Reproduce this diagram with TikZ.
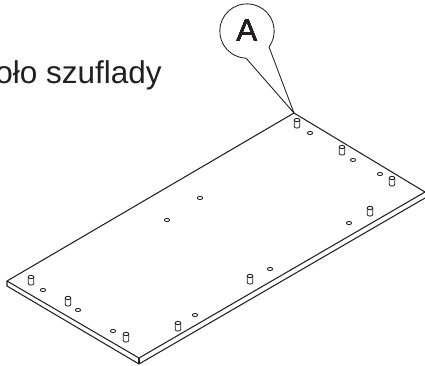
\documentclass[tikz,border=0pt]{standalone}
\usepackage{fontspec}
\setmainfont{Liberation Sans}
\definecolor{ink}{HTML}{231F20}
\tikzset{
  edgeline/.style={draw=ink,line width=1.05pt,line join=round},
  thinline/.style={draw=ink,line width=0.85pt},
  holemark/.style={thinline,fill=white},
  bigtext/.style={text=ink,font=\fontsize{31.5}{34}\selectfont,inner sep=0pt}
}
\newcommand{\pegmark}[2]{%
  \draw [thinline,fill=white] (#1-2.8,#2-3)--(#1-2.8,#2+3.4) arc[start angle=180,end angle=0,x radius=2.8,y radius=1.7]--(#1+2.8,#2-3);
  \draw [thinline,fill=white] (#1,#2-3) ellipse[x radius=2.8,y radius=1.7];
}
\begin{document}
\begin{tikzpicture}[x=1pt,y=-1pt]
    \useasboundingbox (0,0) rectangle (425,365);
    % plyta
    \coordinate (back) at (294,113);
    \coordinate (left) at (7,281);
    \coordinate (front) at (139,358);
    \coordinate (right) at (425,192);
    \coordinate (leftlow) at (7,286);
    \coordinate (frontlow) at (139,364);
    \coordinate (rightlow) at (425,198);
    \draw [edgeline] (back)--(left)--(front)--(right)--cycle;
    \draw [edgeline] (left)--(leftlow)--(frontlow)--(rightlow);
    \draw [edgeline] (front)--(frontlow);
    % otwory
    \foreach \hx/\hy in {310/133,353/160,380/174,349/223,270/269,195/315,113/331,78/310,43/290,200/198,167/220}
        \draw [holemark] (\hx,\hy) ellipse[x radius=2.6,y radius=1.6];
    % kolki
    \foreach \px/\py in {297/123,342/150,392/181,370/211,250/279,178/326,126/337,68/301,31/280}
        \pegmark{\px}{\py}
    % odnosnik
    \node (letterA) at (247,31) [bigtext]{A};
    \coordinate (tailR) at (269,47);
    \draw [thinline] (back)--(tailR) arc[start angle=36,end angle=-268,radius=27.2]--(back);
    \node (caption) at (162,83) [bigtext,anchor=base east]{oło szuflady};
\end{tikzpicture}
\end{document}
